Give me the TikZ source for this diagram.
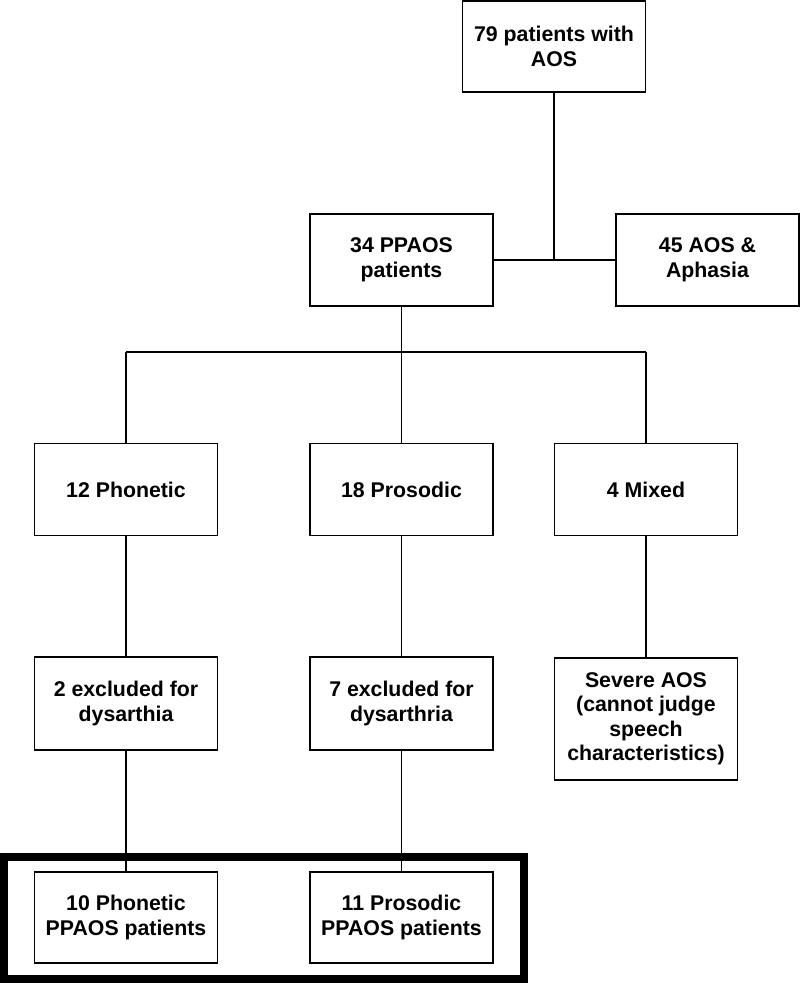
\documentclass[tikz,border=0pt]{standalone}
\usepackage{fontspec}
\setmainfont{Liberation Sans}
\begin{document}
\begin{tikzpicture}[x=1pt,y=-1pt,
  box/.style={draw=black, line width=1.8pt, rectangle, inner sep=0pt, align=center,
    minimum width=183pt, minimum height=92pt,
    font=\fontsize{21.3}{24.5}\selectfont\bfseries},
  conn/.style={draw=black, line width=1.8pt}]
\useasboundingbox (0,0) rectangle (800,983);
\node[box, minimum height=91pt] (top) at (554,46.5) {79 patients with\\AOS};
\node[box] (ppaos) at (401.5,260) {34 PPAOS\\patients};
\node[box] (aph) at (707.5,260) {45 AOS \&\\Aphasia};
\node[box] (phon) at (126,489.5) {12 Phonetic};
\node[box] (pros) at (401.5,489.5) {18 Prosodic};
\node[box] (mix) at (646,489.5) {4 Mixed};
\node[box, minimum height=93pt] (ex1) at (126,703.5) {2 excluded for\\dysarthia};
\node[box, minimum height=93pt] (ex2) at (401.5,703.5) {7 excluded for\\dysarthria};
\node[box, minimum height=122pt] (sev) at (646,719) {Severe AOS\\(cannot judge\\speech\\characteristics)};
\node[box, minimum height=91pt] (fin1) at (126,917.5) {10 Phonetic\\PPAOS patients};
\node[box, minimum height=91pt] (fin2) at (401.5,917.5) {11 Prosodic\\PPAOS patients};
\node[draw=black, line width=8pt, rectangle, inner sep=0pt, minimum width=520pt, minimum height=122pt] (sel) at (264,918) {};
\coordinate (j1) at (top.south |- ppaos.east);
\coordinate (j2) at (401.5,352);
\coordinate (jl) at (phon.north |- j2);
\coordinate (jr) at (mix.north |- j2);
\draw[conn] (top.south) -- (j1);
\draw[conn] (ppaos.east) -- (aph.west);
\draw[conn] (ppaos.south) -- (j2);
\draw[conn] (jl) -- (jr);
\draw[conn] (jl) -- (phon.north);
\draw[conn] (j2) -- (pros.north);
\draw[conn] (jr) -- (mix.north);
\draw[conn] (phon.south) -- (ex1.north);
\draw[conn] (pros.south) -- (ex2.north);
\draw[conn] (mix.south) -- (sev.north);
\draw[conn] (ex1.south) -- (fin1.north);
\draw[conn] (ex2.south) -- (fin2.north);
\end{tikzpicture}
\end{document}
